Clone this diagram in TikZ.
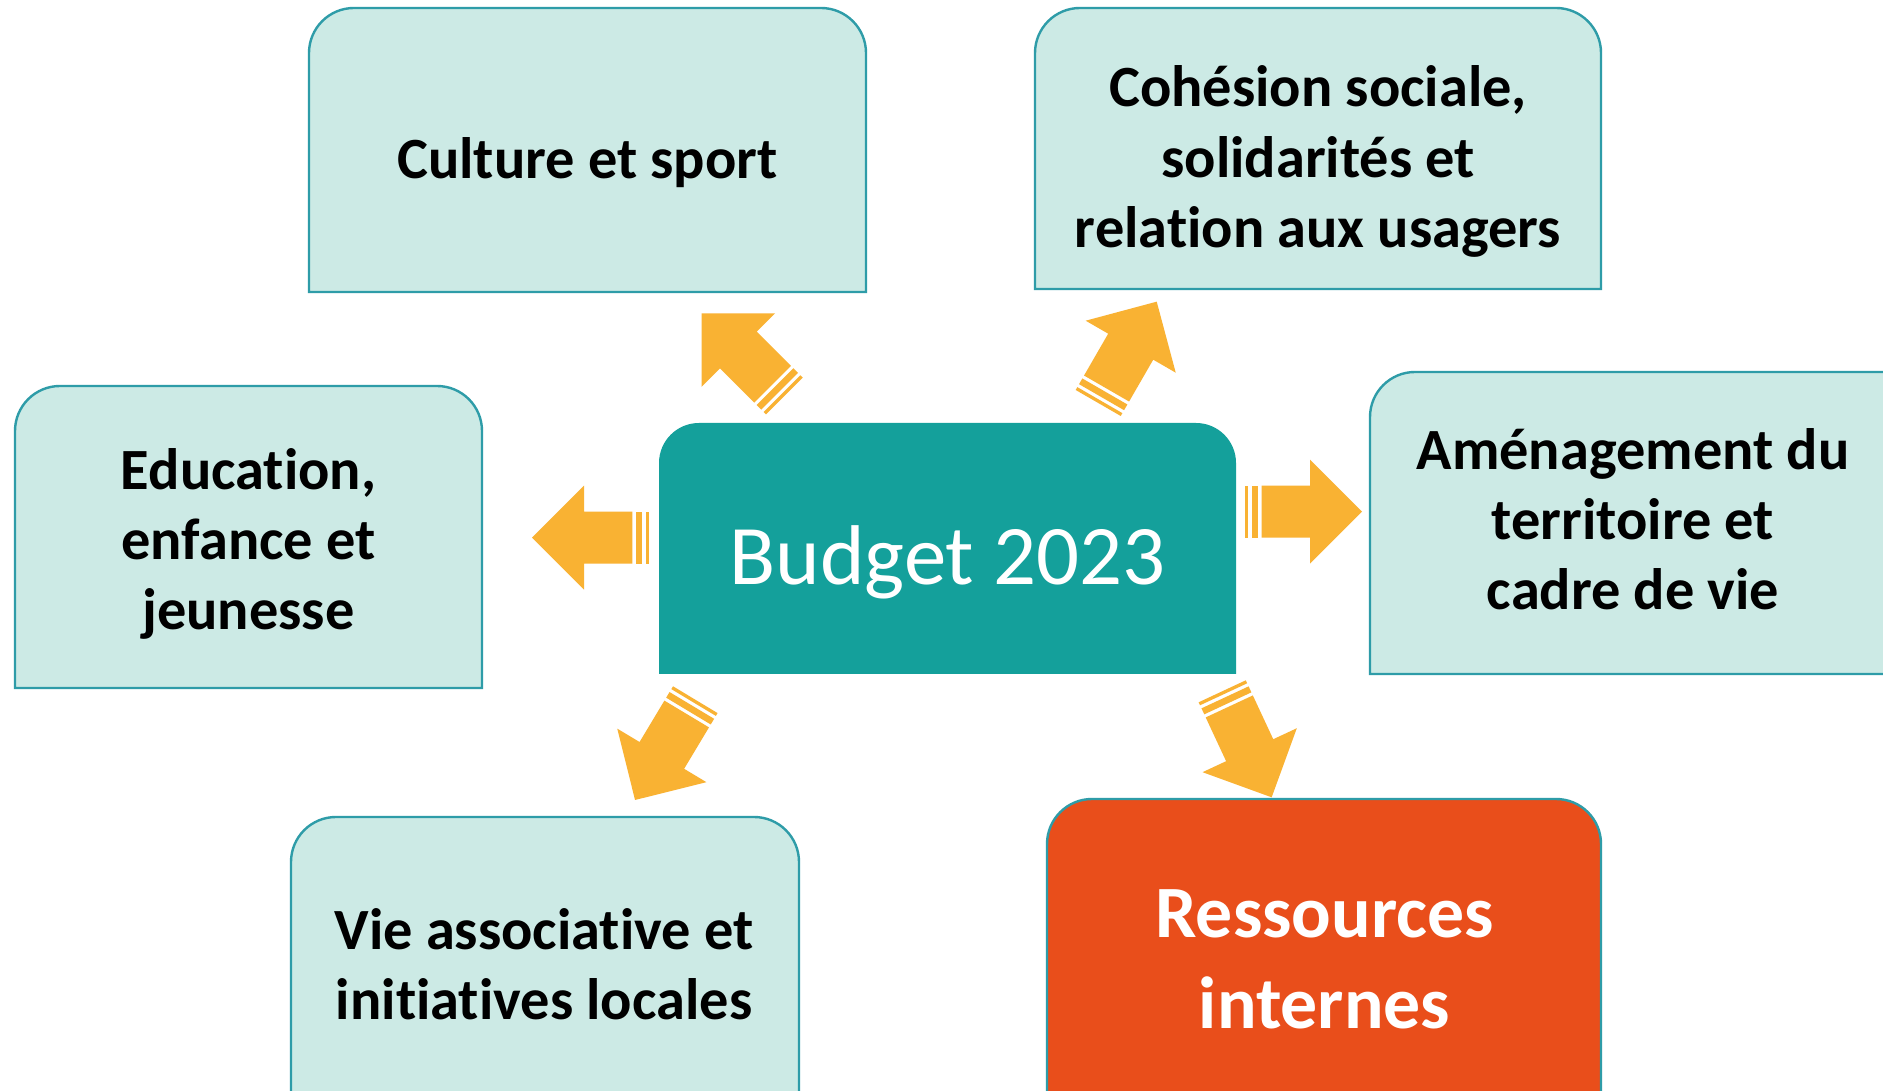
\documentclass[tikz,border=0pt]{standalone}
\usepackage{fontspec}
\setmainfont[Ligatures=NoCommon]{Carlito}
\definecolor{lightteal}{HTML}{CCEAE5}
\definecolor{tealline}{HTML}{2E9CA8}
\definecolor{centerteal}{HTML}{14A09B}
\definecolor{arroworange}{HTML}{F9B233}
\definecolor{resorange}{HTML}{E94E1B}
\tikzset{
  topbox/.style={fill=lightteal, draw=tealline, line width=1.2pt},
  boxtext/.style={align=center, font=\bfseries\fontsize{29.2}{35.1}\selectfont, text=black, inner sep=0pt},
  sarrow/.pic={
    \fill[arroworange] (0,-26) rectangle (3.3,26);
    \fill[arroworange] (6.7,-26) rectangle (13.3,26);
    \fill[arroworange] (16.7,-26) -- (65,-26) -- (65,-52) -- (117,0) -- (65,52) -- (65,26) -- (16.7,26) -- cycle;
  }
}
\newcommand{\roundtopbox}[6]{% style, x1, yb, x2, yt, r
  \path[#1] (#2,#3) -- (#2,#5-#6) arc[start angle=180,end angle=90,radius=#6] -- (#4-#6,#5) arc[start angle=90,end angle=0,radius=#6] -- (#4,#3) -- cycle;
}
\begin{document}
\begin{tikzpicture}[x=0.5pt,y=0.5pt]
\clip (0,0) rectangle (1883,1091);
\fill[white] (0,0) rectangle (1883,1091);
% boxes
\roundtopbox{topbox}{309}{799}{866}{1083}{45}
\roundtopbox{topbox}{1035}{802}{1601}{1083}{45}
\roundtopbox{topbox}{15}{403}{482}{705}{45}
\roundtopbox{topbox}{1370}{417}{1960}{719}{45}
\roundtopbox{topbox}{291}{-50}{799}{274}{45}
\roundtopbox{fill=resorange, draw=tealline, line width=1.2pt}{1047}{-50}{1601}{292}{45}
\roundtopbox{fill=centerteal}{659}{417}{1236}{668}{40}
% texts
\node[boxtext] (culture) at (587.5,928.6) {Culture et sport};
\node[boxtext] (cohesion) at (1318,929.4) {Cohésion sociale,\\solidarités et\\relation aux usagers};
\node[boxtext] (education) at (248.5,547) {Education,\\enfance et\\jeunesse};
\node[boxtext] (amenagement) at (1633,572) {Aménagement du\\territoire et\\cadre de vie};
\node[boxtext] (vie) at (544,127) {Vie associative et\\initiatives locales};
\node[align=center, inner sep=0pt, text=white, font=\bfseries\fontsize{36.9}{45.6}\selectfont] (ressources) at (1324.6,132) {Ressources\\internes};
\node[inner sep=0pt, text=white, font=\fontsize{42.4}{50}\selectfont] (budget) at (947.5,529) {Budget 2023};
% arrows
\pic (aL) at (649,553.3) [rotate=180] {sarrow};
\pic (aR) at (1245,579.3) {sarrow};
\pic (aUL) at (784.4,695) [rotate=135] {sarrow};
\pic (aUR) at (1098.2,688) [rotate=60] {sarrow};
\pic (aDL) at (695.3,391.3) [rotate=239] {sarrow};
\pic (aDR) at (1222.2,399.7) [rotate=-65] {sarrow};
\end{tikzpicture}
\end{document}
